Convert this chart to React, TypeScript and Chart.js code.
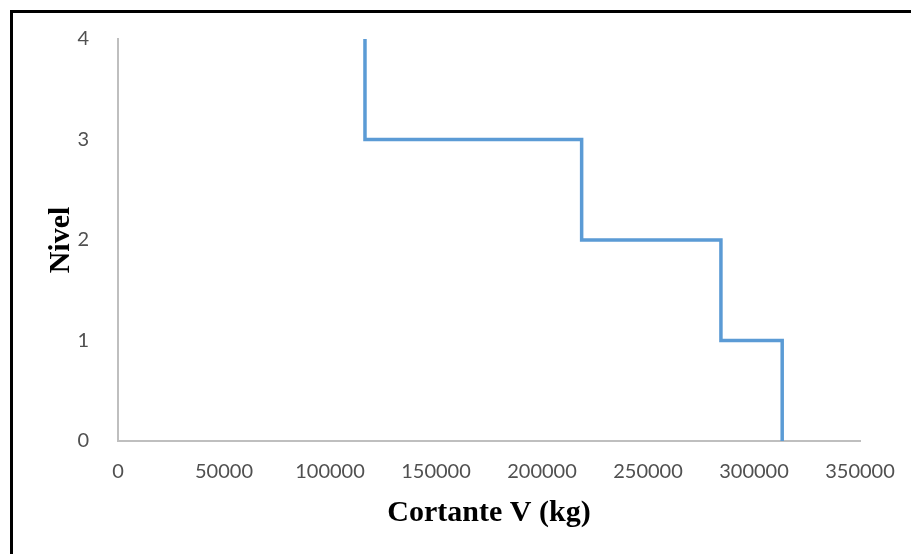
import React, { useEffect, useRef } from "react";
import { Chart, registerables } from "chart.js";

Chart.register(...registerables);

// Step profile of shear force per level (x = shear in kg, y = level)
const shearKg = [116500, 116500, 218700, 218700, 284400, 284400, 313300, 313300];
const levels = [4, 3, 3, 2, 2, 1, 1, 0];
const xTicks = [0, 50000, 100000, 150000, 200000, 250000, 300000, 350000];
const yTicks = [0, 1, 2, 3, 4];

const xTitle = "Cortante V (kg)";
const yTitle = "Nivel";

const W = 911;
const H = 554;

export default function App() {
  const ref = useRef<HTMLCanvasElement | null>(null);

  useEffect(() => {
    if (!ref.current) return;
    const data = shearKg.map((x, i) => ({ x, y: levels[i] }));
    const tickFont = { family: "Lato, 'Liberation Sans', sans-serif", size: 20 };
    const titleFont = { family: "'Liberation Serif', 'Times New Roman', serif", size: 30, weight: "bold" as const };
    const chart = new Chart(ref.current, {
      type: "scatter",
      data: {
        datasets: [
          {
            data,
            showLine: true,
            borderColor: "#5B9BD5",
            backgroundColor: "#5B9BD5",
            borderWidth: 3.5,
            pointRadius: 0,
            pointHoverRadius: 0,
            borderJoinStyle: "miter",
            tension: 0,
          },
        ],
      },
      options: {
        animation: false,
        responsive: false,
        events: [],
        layout: { padding: { top: 39, right: 51, bottom: 0, left: 0 } },
        plugins: { legend: { display: false }, tooltip: { enabled: false } },
        scales: {
          x: {
            type: "linear",
            min: xTicks[0],
            max: xTicks[xTicks.length - 1],
            afterBuildTicks: (s: any) => {
              s.ticks = xTicks.map((v) => ({ value: v }));
            },
            afterFit: (s: any) => {
              s.height = H - 441;
            },
            grid: { display: false },
            border: { display: true, color: "#BFBFBF", width: 2 },
            ticks: {
              color: "#505050",
              font: tickFont,
              padding: 11,
              maxRotation: 0,
              autoSkip: false,
              callback: (v: any) => String(v),
            },
            title: {
              display: true,
              text: xTitle,
              color: "#000000",
              font: titleFont,
              padding: { top: 0, bottom: 23 },
            },
          },
          y: {
            type: "linear",
            min: yTicks[0],
            max: yTicks[yTicks.length - 1],
            afterBuildTicks: (s: any) => {
              s.ticks = yTicks.map((v) => ({ value: v }));
            },
            afterFit: (s: any) => {
              s.width = 118;
            },
            grid: { display: false },
            border: { display: true, color: "#BFBFBF", width: 2 },
            ticks: {
              color: "#505050",
              font: tickFont,
              padding: 21,
              autoSkip: false,
              callback: (v: any) => String(v),
            },
            title: {
              display: true,
              text: yTitle,
              color: "#000000",
              font: titleFont,
              padding: { top: 43, bottom: 0 },
            },
          },
        },
      },
    });
    return () => chart.destroy();
  }, []);

  return (
    <div style={{ position: "fixed", left: 0, top: 0, width: W, height: H, background: "#ffffff", overflow: "hidden" }}>
      <canvas ref={ref} width={W} height={H} style={{ position: "absolute", left: 0, top: 0, width: W, height: H }} />
      <div
        style={{
          position: "absolute",
          left: 10,
          top: 10,
          width: W - 10,
          height: H - 10,
          borderTop: "3px solid #000000",
          borderLeft: "3px solid #000000",
          boxSizing: "border-box",
          pointerEvents: "none",
        }}
      />
    </div>
  );
}
